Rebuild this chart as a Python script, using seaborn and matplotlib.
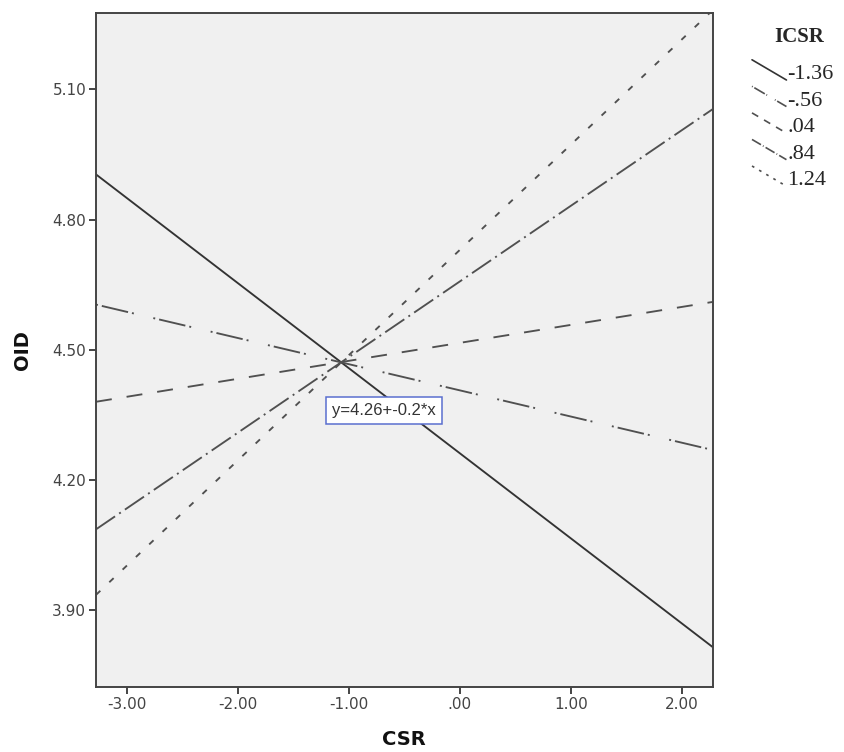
import pandas as pd
import matplotlib
matplotlib.use("Agg")
import matplotlib.pyplot as plt
from matplotlib.lines import Line2D
from matplotlib.legend_handler import HandlerLine2D
import seaborn as sns

# ── Data (simple slopes of OID on CSR) ────────────────────────────────
csr_ends = [-3.277, 2.276]
icsr_levels = ["-1.36", "-.56", ".04", ".84", "1.24"]
oid_at_left = [4.904, 4.604, 4.380, 4.086, 3.935]
oid_at_right = [3.815, 4.269, 4.610, 5.054, 5.282]

x_ticks = [-3.0, -2.0, -1.0, 0.0, 1.0, 2.0]
x_tick_labels = ["-3.00", "-2.00", "-1.00", ".00", "1.00", "2.00"]
y_ticks = [3.90, 4.20, 4.50, 4.80, 5.10]
y_tick_labels = ["3.90", "4.20", "4.50", "4.80", "5.10"]
fit_label = "y=4.26+-0.2*x"

rows = []
for lvl, y0, y1 in zip(icsr_levels, oid_at_left, oid_at_right):
    rows.append({"CSR": csr_ends[0], "OID": y0, "ICSR": lvl})
    rows.append({"CSR": csr_ends[1], "OID": y1, "ICSR": lvl})
df = pd.DataFrame(rows)

# ── Styles (dash patterns in points, unscaled) ────────────────────────
DASHES = {
    "-1.36": "",
    "-.56": (1.4, 2.9, 19.4, 2.9, 1.4, 14.4),
    ".04": (11.5, 10.8),
    ".84": (16.6, 3.6, 1.4, 3.6),
    "1.24": (4.3, 8.9),
}
COLORS = {"-1.36": "#333333", "-.56": "#505050", ".04": "#505050",
          ".84": "#505050", "1.24": "#505050"}

sns.set_theme(style="white")
plt.rcParams["font.family"] = ["DejaVu Sans"]
plt.rcParams["lines.scale_dashes"] = False


class DiagonalHandler(HandlerLine2D):
    """SPSS-style legend key: short line sloping down to the right."""
    def create_artists(self, legend, orig_handle, xdescent, ydescent,
                       width, height, fontsize, trans):
        line = Line2D([-xdescent, -xdescent + width],
                      [-ydescent + height * 1.25, -ydescent - height * 0.05])
        self.update_prop(line, orig_handle, legend)
        line.set_transform(trans)
        return [line]


fig = plt.figure(figsize=(8.45, 7.52), dpi=100)
ax = fig.add_axes([0.1136, 0.0864, 0.7296, 0.8967])
ax.set_facecolor("#f0f0f0")

sns.lineplot(data=df, x="CSR", y="OID", hue="ICSR", style="ICSR",
             hue_order=icsr_levels, style_order=icsr_levels,
             palette=COLORS, dashes=DASHES, linewidth=1.35,
             legend=False, ax=ax)

ax.set_xlim(csr_ends[0], csr_ends[1])
ax.set_ylim(3.7226, 5.2766)
ax.set_xticks(x_ticks)
ax.set_xticklabels(x_tick_labels)
ax.set_yticks(y_ticks)
ax.set_yticklabels(y_tick_labels)
ax.tick_params(axis="both", direction="out", length=5, width=1.4,
               color="#444444", labelcolor="#444444", labelsize=11, pad=2,
               bottom=True, left=True)

for side in ["top", "right", "bottom", "left"]:
    ax.spines[side].set_color("#444444")
    ax.spines[side].set_linewidth(1.4)

ax.set_xlabel("CSR", fontsize=14, fontweight="bold", color="#111111")
ax.set_ylabel("OID", fontsize=14, fontweight="bold", color="#111111")
ax.xaxis.set_label_coords(0.5, -0.063)
ax.yaxis.set_label_coords(-0.104, 0.5)

# fit annotation box
ax.text(-0.682, 4.360, fit_label, ha="center", va="center", fontsize=12,
        family="Liberation Sans", color="#333333",
        bbox=dict(boxstyle="square,pad=0.36", facecolor="white",
                  edgecolor="#5a6fcf", linewidth=1.1))

# legend
handles = []
for lvl in icsr_levels:
    d = DASHES[lvl]
    h = Line2D([], [], color=COLORS[lvl], linewidth=1.2)
    if d:
        h.set_dashes(tuple(v * 0.45 for v in d))
    handles.append(h)

leg = fig.legend(handles, icsr_levels, title="ICSR",
                 loc="upper left", bbox_to_anchor=(752 / 845, 1 - 27 / 752),
                 frameon=False, handler_map={Line2D: DiagonalHandler()},
                 borderpad=0, borderaxespad=0,
                 handlelength=1.55, handletextpad=0.05, labelspacing=0.27,
                 prop={"family": "Liberation Serif", "size": 16},
                 title_fontproperties={"family": "Liberation Serif",
                                       "size": 15, "weight": "bold"})
leg._legend_box.align = "center"
leg._legend_box.sep = 12
leg.get_title().set_x(6)

fig.savefig("out.png", dpi=100)
